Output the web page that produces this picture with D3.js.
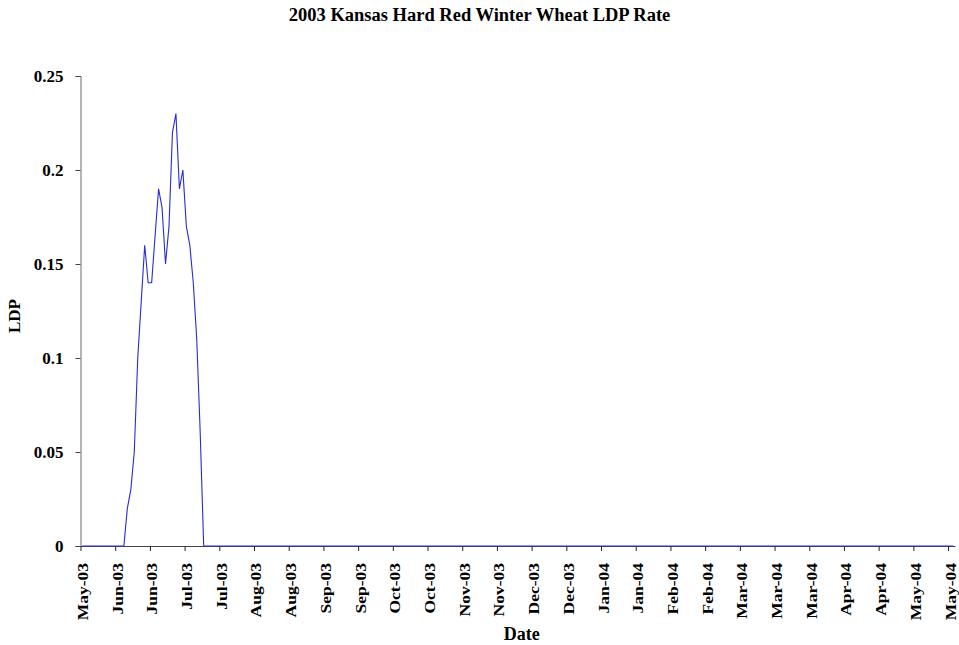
<!DOCTYPE html>
<html>
<head>
<meta charset="utf-8">
<script src="https://cdn.jsdelivr.net/npm/d3@7"></script>
<style>
    body { margin: 0; background: #fff; }
    svg text { font-family: "Liberation Serif", "Times New Roman", serif; font-weight: bold; fill: #000; }
</style>
</head>
<body>
<div id="chart"></div>
<script>
const chartTitle = '2003 Kansas Hard Red Winter Wheat LDP Rate';

// category axis: one category per business day, a label every 10 categories
const tickLabels = [
    'May-03', 'Jun-03', 'Jun-03', 'Jul-03', 'Jul-03', 'Aug-03', 'Aug-03',
    'Sep-03', 'Sep-03', 'Oct-03', 'Oct-03', 'Nov-03', 'Nov-03', 'Dec-03',
    'Dec-03', 'Jan-04', 'Jan-04', 'Feb-04', 'Feb-04', 'Mar-04', 'Mar-04',
    'Mar-04', 'Apr-04', 'Apr-04', 'May-04', 'May-04'
];
const daysPerLabel = 10;
const dayCount = 252;

// LDP rate ($/bu) by business day; zero before and after the harvest window
const ldpDay = [0, 12, 13, 14, 15, 16, 17, 18, 19, 20, 21, 22, 23, 24, 25, 26, 27, 28, 29, 30, 31, 32, 33, 34, 35, 251];
const ldpRate = [0, 0, 0.02, 0.03, 0.05, 0.10, 0.13, 0.16, 0.14, 0.14, 0.165, 0.19, 0.18, 0.15, 0.17, 0.22, 0.23, 0.19, 0.20, 0.17, 0.16, 0.14, 0.11, 0.06, 0, 0];

const yTicks = [0, 0.05, 0.1, 0.15, 0.2, 0.25];

const config = {
    containerWidth: 959,
    containerHeight: 645,
    margin: { top: 76, right: 4, bottom: 99, left: 80.5 }
};

const width = config.containerWidth - config.margin.left - config.margin.right;
const height = config.containerHeight - config.margin.top - config.margin.bottom;

const svg = d3.select('#chart')
    .append('svg')
    .attr('width', config.containerWidth)
    .attr('height', config.containerHeight);

svg.append('text')
    .attr('x', config.containerWidth / 2)
    .attr('y', 21)
    .attr('text-anchor', 'middle')
    .style('font-size', '18.5px')
    .text(chartTitle);

const g = svg.append('g')
    .attr('transform', `translate(${config.margin.left},${config.margin.top})`);

const xScale = d3.scaleLinear()
    .domain([0, dayCount])
    .range([0, width]);

const yScale = d3.scaleLinear()
    .domain([0, 0.25])
    .range([height, 0]);

// y axis
const yAxis = g.append('g')
    .call(d3.axisLeft(yScale)
        .tickValues(yTicks)
        .tickSize(5)
        .tickPadding(12)
        .tickFormat(d => String(d)));
yAxis.select('.domain').attr('stroke', '#6a6a6a');
yAxis.selectAll('.tick line').attr('stroke', '#444');
yAxis.selectAll('.tick text').style('font-size', '17px');

// x axis (labels are a bit narrow in the original, hence the scale)
const xAxis = g.append('g')
    .attr('transform', `translate(0,${height})`)
    .call(d3.axisBottom(xScale)
        .tickValues(tickLabels.map((d, i) => i * daysPerLabel))
        .tickSize(5)
        .tickSizeOuter(0)
        .tickFormat((d, i) => tickLabels[i]));
xAxis.select('.domain').attr('stroke', '#444');
xAxis.selectAll('.tick line').attr('stroke', '#222');
xAxis.selectAll('.tick text')
    .style('font-size', '17.5px')
    .attr('text-anchor', 'end')
    .attr('transform', 'rotate(-90) scale(1,0.85)')
    .attr('x', -17)
    .attr('y', 8.2)
    .attr('dy', 0);

// series line
const line = d3.line()
    .x((d, i) => xScale(ldpDay[i] + 0.5))
    .y(d => yScale(d));

g.append('path')
    .datum(ldpRate)
    .attr('fill', 'none')
    .attr('stroke', '#2a2ad8')
    .attr('stroke-width', 1.1)
    .attr('d', line);

// axis titles
svg.append('text')
    .attr('transform', `translate(20,${config.margin.top + height / 2 + 5}) rotate(-90)`)
    .attr('text-anchor', 'middle')
    .style('font-size', '17px')
    .text('LDP');

svg.append('text')
    .attr('x', config.margin.left + width / 2 + 4)
    .attr('y', 640)
    .attr('text-anchor', 'middle')
    .style('font-size', '18px')
    .text('Date');
</script>
</body>
</html>
